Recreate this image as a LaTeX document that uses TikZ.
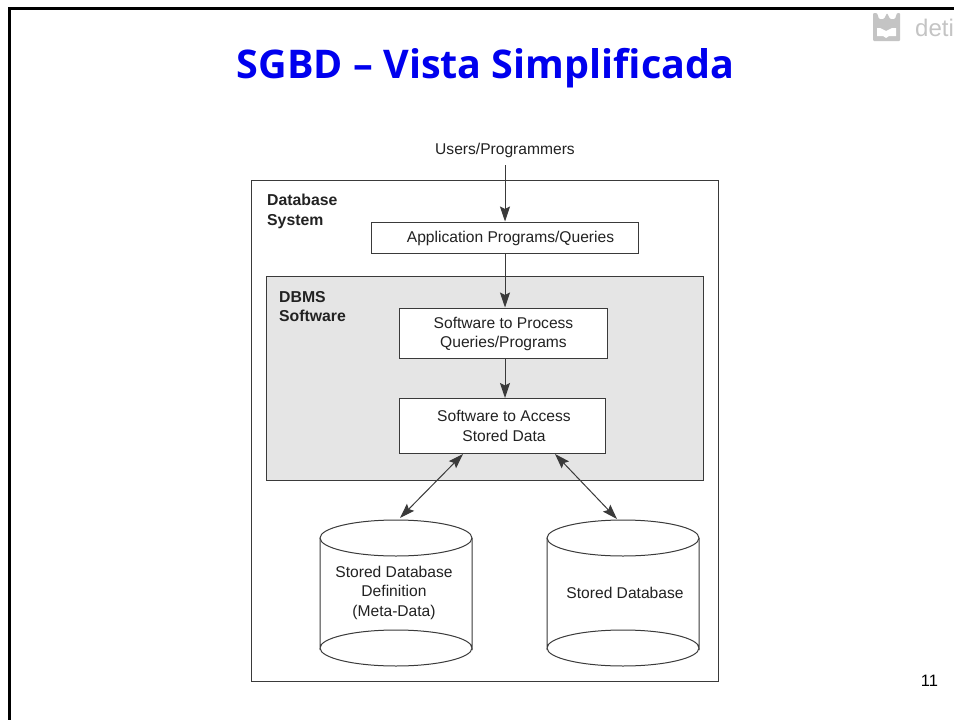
\documentclass[tikz,border=0pt]{standalone}
\usepackage{fontspec}
\setmainfont{Liberation Sans}
\newfontfamily\titlefont{Open Sans}
\usetikzlibrary{arrows.meta}
\definecolor{ln}{HTML}{3A3A3A}
\definecolor{txt}{HTML}{222222}
\definecolor{titleblue}{HTML}{0000EE}
\definecolor{logogray}{HTML}{C4C4C4}
\tikzset{x=1pt,y=-1pt,
 box/.style={draw=ln,line width=1pt,fill=white,inner sep=0pt,align=center,text=txt,font=\fontsize{15.6}{20}\selectfont},
 lbl/.style={inner sep=0pt,align=left,text=txt,font=\fontsize{15.8}{19.5}\selectfont\bfseries},
 plain/.style={inner sep=0pt,align=center,text=txt,font=\fontsize{15.6}{19.5}\selectfont},
 cyl/.style={draw=ln,line width=1pt,fill=white},
 arr/.style={draw=ln,line width=1pt,-{Stealth[length=15pt,width=10pt,inset=2.5pt]}},
 biarr/.style={draw=ln,line width=1pt,{Stealth[length=15pt,width=10pt,inset=2.5pt]}-{Stealth[length=15pt,width=10pt,inset=2.5pt]}}}
\begin{document}
\begin{tikzpicture}
\useasboundingbox (0,0) rectangle (954,720);
\fill[white] (0,0) rectangle (954,720);
\draw[black,line width=3pt] (9,720) -- (9,8) -- (954,8);
% logo
\fill[logogray,rounded corners=1pt] (873,13) -- (877,13) -- (879,19) -- (884,19) -- (887,13) -- (890,19) -- (895,19) -- (897,13) -- (900,13) -- (900,41) -- (873,41) -- cycle;
\fill[white] (877,28) -- (880,28) -- (886,31) -- (892,28) -- (896,28) -- (896,36) -- (889,36) -- (886,38) -- (883,36) -- (877,36) -- cycle;
\node[inner sep=0pt,anchor=west,text=logogray,font=\fontsize{24}{26}\selectfont] (logotext) at (915,28) {deti};
\node[inner sep=0pt,text=titleblue,font=\titlefont\fontsize{39.5}{48}\selectfont\bfseries] (title) at (485.5,68) {SGBD – Vista Simplificada};
\node[inner sep=0pt,font=\fontsize{16.5}{18}\selectfont,text=black] (page) at (929.5,681) {11};
% outer
\node[draw=ln,line width=1pt,fill=white,minimum width=467pt,minimum height=501pt,inner sep=0pt] (system) at (484.5,431) {};
\node[lbl,anchor=north west] (systemlbl) at (267,194) {Database\\System};
\node[draw=ln,line width=1pt,fill=black!10,minimum width=437pt,minimum height=204pt,inner sep=0pt] (dbms) at (484.5,378.5) {};
\node[lbl,anchor=north west] (dbmslbl) at (279,291) {DBMS\\Software};
\node[plain] (users) at (505,150) {Users/Programmers};
\node[box,minimum width=267pt,minimum height=31pt] (apps) at (505,237.5) {\hspace{11pt}\raisebox{-5pt}[8pt][8pt]{Application Programs/Queries}};
\node[box,minimum width=208pt,minimum height=50pt] (proc) at (503.5,333) {\raisebox{-14pt}[10pt][10pt]{\shortstack{Software to Process\\[4pt]Queries/Programs}}};
\node[box,minimum width=206pt,minimum height=55pt] (access) at (502.5,426) {\hspace{3pt}\raisebox{-0.5pt}{\shortstack{Software to Access\\[5pt]Stored Data}}};
\draw[arr] ([yshift=-8pt]users.south) -- (apps.north-|users);
\draw[arr] (apps.south-|users) -- (proc.north-|users);
\draw[arr] (proc.south-|users) -- (access.north-|users);
% cylinders
\draw[cyl] (320,538) -- (320,648) arc[start angle=180,end angle=360,x radius=76,y radius=18] -- (472,538);
\draw[cyl] (320,648) arc[start angle=180,end angle=0,x radius=76,y radius=18];
\draw[cyl] (396,538) ellipse[x radius=76,y radius=18];
\draw[cyl] (547,538) -- (547,648) arc[start angle=180,end angle=360,x radius=76,y radius=18] -- (699,538);
\draw[cyl] (547,648) arc[start angle=180,end angle=0,x radius=76,y radius=18];
\draw[cyl] (623,538) ellipse[x radius=76,y radius=18];
\node[plain] (def) at (394,592.5) {Stored Database\\Definition\\(Meta-Data)};
\node[plain] (stored) at (625,592.5) {Stored Database};
\coordinate (a1) at (463,454);
\coordinate (a2) at (400,518);
\coordinate (b1) at (555,454);
\coordinate (b2) at (617,519);
\draw[biarr] (a1) -- (a2);
\draw[biarr] (b1) -- (b2);
\end{tikzpicture}
\end{document}
